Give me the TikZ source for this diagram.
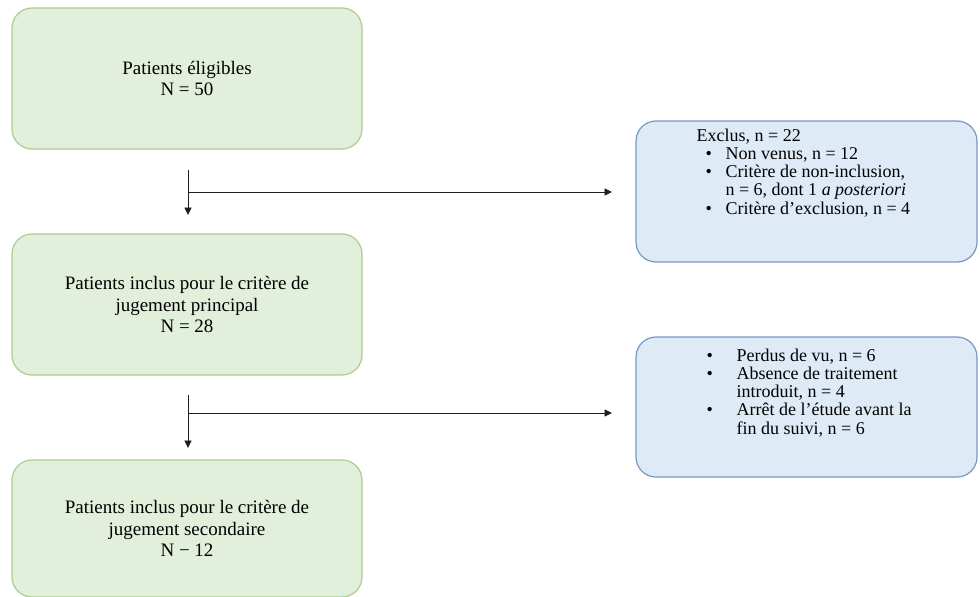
\documentclass[tikz,border=0pt]{standalone}
\usepackage{fontspec}
\setmainfont{Liberation Serif}
\usetikzlibrary{arrows.meta,calc}
\definecolor{gfill}{RGB}{226,239,218}
\definecolor{gdraw}{RGB}{169,206,142}
\definecolor{bfill}{RGB}{222,235,247}
\definecolor{bdraw}{RGB}{118,152,196}
\definecolor{arr}{RGB}{30,30,30}
\tikzset{
  greenbox/.style={draw=gdraw, fill=gfill, line width=1.2pt, rounded corners=20pt,
    minimum width=350pt, align=center, inner sep=0pt,
    font=\fontsize{19}{21.5}\selectfont, text=black},
  bluebox/.style={draw=bdraw, fill=bfill, line width=1.2pt, rounded corners=20pt,
    minimum width=341pt, minimum height=141pt, inner sep=0pt},
  bluetext/.style={anchor=north west, align=left, inner sep=0pt,
    font=\fontsize{18}{18.3}\selectfont, text=black},
  flow/.style={draw=arr, line width=0.9pt, -{Triangle[width=7pt,length=7.5pt]}},
}
\newcommand{\bul}[2]{\hbox to #2pt{\hspace{#1pt}\textbullet\hfill}}
\begin{document}
\begin{tikzpicture}[x=1pt,y=-1pt]
\useasboundingbox (0,0) rectangle (980,597);
\node[greenbox, minimum height=141pt] (g1) at (187,78.5) {Patients éligibles\\N = 50};
\node[greenbox, minimum height=141pt] (g2) at (187,304.5) {Patients inclus pour le critère de\\jugement principal\\N = 28};
\node[greenbox, minimum height=137pt] (g3) at (187,528.5) {Patients inclus pour le critère de\\jugement secondaire\\N − 12};

\node[bluebox] (b1) at (806.5,191.5) {};
\node[bluetext] (t1) at ($(b1.north west)+(61,8)$) {Exclus, n = 22\\
\bul{9}{29}Non venus, n = 12\\
\bul{9}{29}Critère de non-inclusion,\\
\hspace{29pt}n = 6, dont 1 \textit{a posteriori}\\
\bul{9}{29}Critère d’exclusion, n = 4};

\node[bluebox, minimum height=140pt] (b2) at (806.5,407) {};
\node[bluetext] (t2) at ($(b2.north west)+(71,12)$) {\bul{0}{30}Perdus de vu, n = 6\\
\bul{0}{30}Absence de traitement\\
\hspace{30pt}introduit, n = 4\\
\bul{0}{30}Arrêt de l’étude avant la\\
\hspace{30pt}fin du suivi, n = 6};

\coordinate (s1) at (188,170);
\coordinate (e1) at (188,215);
\coordinate (j1) at (188,192);
\coordinate (h1) at (612,192);
\coordinate (s2) at (188,395);
\coordinate (e2) at (188,448);
\coordinate (j2) at (188,413);
\coordinate (h2) at (612,413);
\draw[flow] (s1) -- (e1);
\draw[flow] (j1) -- (h1);
\draw[flow] (s2) -- (e2);
\draw[flow] (j2) -- (h2);
\end{tikzpicture}
\end{document}
